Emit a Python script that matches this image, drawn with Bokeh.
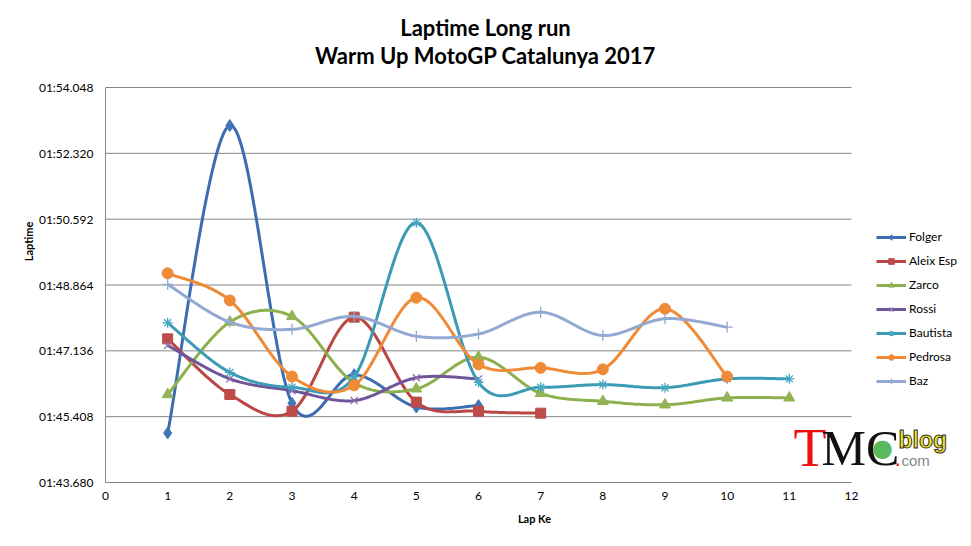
from bokeh.plotting import figure
from bokeh.models import Range1d, FixedTicker, Label, Legend, LegendItem
from bokeh.embed import file_html
from bokeh.resources import INLINE
import numpy as np

# ---------------- data (lap times in seconds) ----------------
laps_6 = [1, 2, 3, 4, 5, 6]
folger = [104.98, 113.05, 105.76, 106.51, 105.66, 105.70]
laps_7 = [1, 2, 3, 4, 5, 6, 7]
aleix = [107.45, 105.99, 105.55, 108.02, 105.79, 105.55, 105.50]
laps_11 = [1, 2, 3, 4, 5, 6, 7, 8, 9, 10, 11]
zarco = [105.99, 107.89, 108.04, 106.30, 106.14, 106.97, 106.02, 105.81, 105.72, 105.90, 105.90]
rossi = [107.28, 106.40, 106.09, 105.83, 106.43, 106.40]
bautista = [107.87, 106.57, 106.18, 106.45, 110.50, 106.31, 106.18, 106.25, 106.17, 106.40, 106.40]
laps_10 = [1, 2, 3, 4, 5, 6, 7, 8, 9, 10]
pedrosa = [109.17, 108.46, 106.46, 106.23, 108.53, 106.78, 106.69, 106.65, 108.24, 106.46]
baz = [108.88, 107.89, 107.70, 108.04, 107.52, 107.58, 108.15, 107.54, 107.98, 107.76]

y_ticks = [103.680, 105.408, 107.136, 108.864, 110.592, 112.320, 114.048]
y_tick_labels = ["01:43.680", "01:45.408", "01:47.136", "01:48.864",
                 "01:50.592", "01:52.320", "01:54.048"]
x_ticks = list(range(0, 13))

title_line1 = "Laptime Long run"
title_line2 = "Warm Up MotoGP Catalunya 2017"

series = [
    ("Folger", laps_6, folger, "#3d6db1", "#4275b8", "diamond", 12),
    ("Aleix Esp", laps_7, aleix, "#b94744", "#bd4b48", "square", 10),
    ("Zarco", laps_11, zarco, "#8db04e", "#93b455", "triangle", 11),
    ("Rossi", laps_6, rossi, "#71559a", "#8a70ae", "x", 10),
    ("Bautista", laps_11, bautista, "#3b9bb7", "#45a8c3", "asterisk", 10),
    ("Pedrosa", laps_10, pedrosa, "#ef8a37", "#ef8a37", "circle", 11),
    ("Baz", laps_10, baz, "#93a9d3", "#93a9d3", "cross", 11),
]

FONT = "Lato"


def smooth(xs, ys, n=30):
    """Excel-like smoothed line (Catmull-Rom Bezier through data points)."""
    P = np.column_stack([xs, ys]).astype(float)
    m = len(P)
    out = []
    for i in range(m - 1):
        p0 = P[i - 1] if i > 0 else P[i]
        p1 = P[i]
        p2 = P[i + 1]
        p3 = P[i + 2] if i + 2 < m else P[i + 1]
        c1 = p1 + (p2 - p0) / 6.0
        c2 = p2 - (p3 - p1) / 6.0
        t = np.linspace(0, 1, n, endpoint=(i == m - 2))[:, None]
        b = ((1 - t) ** 3) * p1 + 3 * ((1 - t) ** 2) * t * c1 + 3 * (1 - t) * t ** 2 * c2 + t ** 3 * p2
        out.append(b)
    arr = np.vstack(out)
    return arr[:, 0], arr[:, 1]


# canvas / frame geometry (pixels)
W, H = 963, 538
FL, FB = 105, 482           # frame left, frame bottom (canvas px)
PX_X = (851 - 105) / 12.0   # px per lap
PX_Y = (482 - 87) / (y_ticks[-1] - y_ticks[0])  # px per second

x_end = x_ticks[0] + (W - FL) / PX_X
y_end = y_ticks[0] + FB / PX_Y

p = figure(width=W, height=H, output_backend="svg", toolbar_location=None,
           x_range=Range1d(x_ticks[0], x_end), y_range=Range1d(y_ticks[0], y_end),
           min_border_left=FL, min_border_right=0, min_border_top=0, min_border_bottom=H - FB)
p.outline_line_color = None
p.background_fill_color = "white"
p.border_fill_color = "white"

# axes
p.xaxis.ticker = FixedTicker(ticks=x_ticks)
p.yaxis.ticker = FixedTicker(ticks=y_ticks)
p.yaxis.major_label_overrides = {t: l for t, l in zip(y_ticks, y_tick_labels)}
p.xaxis.bounds = (x_ticks[0], x_ticks[-1])
p.yaxis.bounds = (y_ticks[0], y_ticks[-1])
for ax in (p.xaxis[0], p.yaxis[0]):
    ax.axis_line_color = "#868686"
    ax.axis_line_width = 1
    ax.major_tick_out = 0
    ax.major_tick_in = 0
    ax.minor_tick_out = 0
    ax.minor_tick_in = 0
    ax.major_label_text_font = FONT
    ax.major_label_text_font_size = "12px"
    ax.major_label_text_color = "#000000"
    ax.axis_label_text_font = FONT
    ax.axis_label_text_font_style = "bold"
    ax.axis_label_text_font_size = "11px"
    ax.axis_label_text_color = "#000000"
p.yaxis.axis_label = "Laptime"
p.xaxis.axis_label = "Lap Ke"
p.yaxis.major_label_standoff = 12
p.yaxis.axis_label_standoff = 1
p.xaxis.major_label_standoff = 9
p.xaxis.axis_label_standoff = 9

p.xgrid.grid_line_color = None
p.ygrid.grid_line_color = None
# horizontal gridlines limited to the lap axis extent
p.segment(x0=[x_ticks[0]] * len(y_ticks), x1=[x_ticks[-1]] * len(y_ticks),
          y0=y_ticks, y1=y_ticks, line_color="#868686", line_width=1)

items = []
for name, xs, ys, lc, mc, marker, size in series:
    sx, sy = smooth(xs, ys)
    r1 = p.line(sx, sy, line_color=lc, line_width=3)
    if marker in ("x", "asterisk", "cross"):
        r2 = p.scatter(xs, ys, marker=marker, size=size, line_color=mc, line_width=1.3)
    else:
        r2 = p.scatter(xs, ys, marker=marker, size=size, fill_color=mc, line_color=mc)
    items.append(LegendItem(label=name, renderers=[r1, r2]))

legend = Legend(items=items, location=(771, 94), orientation="vertical",
                border_line_color=None, background_fill_alpha=0,
                glyph_width=30, glyph_height=14, label_height=14, spacing=9,
                label_standoff=3, padding=0, margin=0,
                label_text_font=FONT, label_text_font_size="12px", label_text_color="#000000")
p.add_layout(legend, "center")

# title (frame-relative screen coordinates)
p.add_layout(Label(x=380, y=455, x_units="screen", y_units="screen", text=title_line1,
                   text_align="center", text_baseline="middle", text_font=FONT,
                   text_font_style="bold", text_font_size="22px", text_color="#000000"))
p.add_layout(Label(x=380, y=427, x_units="screen", y_units="screen", text=title_line2,
                   text_align="center", text_baseline="middle", text_font=FONT,
                   text_font_style="bold", text_font_size="22px", text_color="#000000"))

# TMC blog logo (approximation)
p.add_layout(Label(x=688, y=35, x_units="screen", y_units="screen", text="T",
                   text_align="left", text_baseline="alphabetic", text_font="Liberation Serif",
                   text_font_size="54px", text_color="#ee1111"))
p.add_layout(Label(x=716, y=35, x_units="screen", y_units="screen", text="MC",
                   text_align="left", text_baseline="alphabetic", text_font="Liberation Serif",
                   text_font_size="50px", text_color="#111111"))
p.add_layout(Label(x=777, y=35, x_units="screen", y_units="screen", text="\u25CF",
                   text_align="center", text_baseline="middle", text_font="DejaVu Sans",
                   text_font_size="24px", text_color="#5cb85c"))
p.add_layout(Label(x=793, y=43, x_units="screen", y_units="screen", text="blog",
                   text_align="left", text_baseline="alphabetic", text_font="Liberation Sans",
                   text_font_style="bold", text_font_size="23px", text_color="#f2e21a",
                   text_outline_color="#333333"))
p.add_layout(Label(x=790, y=23, x_units="screen", y_units="screen", text=".",
                   text_align="left", text_baseline="alphabetic", text_font="Liberation Sans",
                   text_font_style="bold", text_font_size="16px", text_color="#dd2222"))
p.add_layout(Label(x=796, y=22, x_units="screen", y_units="screen", text="com",
                   text_align="left", text_baseline="alphabetic", text_font="Liberation Sans",
                   text_font_size="15px", text_color="#888888"))

open("out.html", "w").write(file_html(p, INLINE))
